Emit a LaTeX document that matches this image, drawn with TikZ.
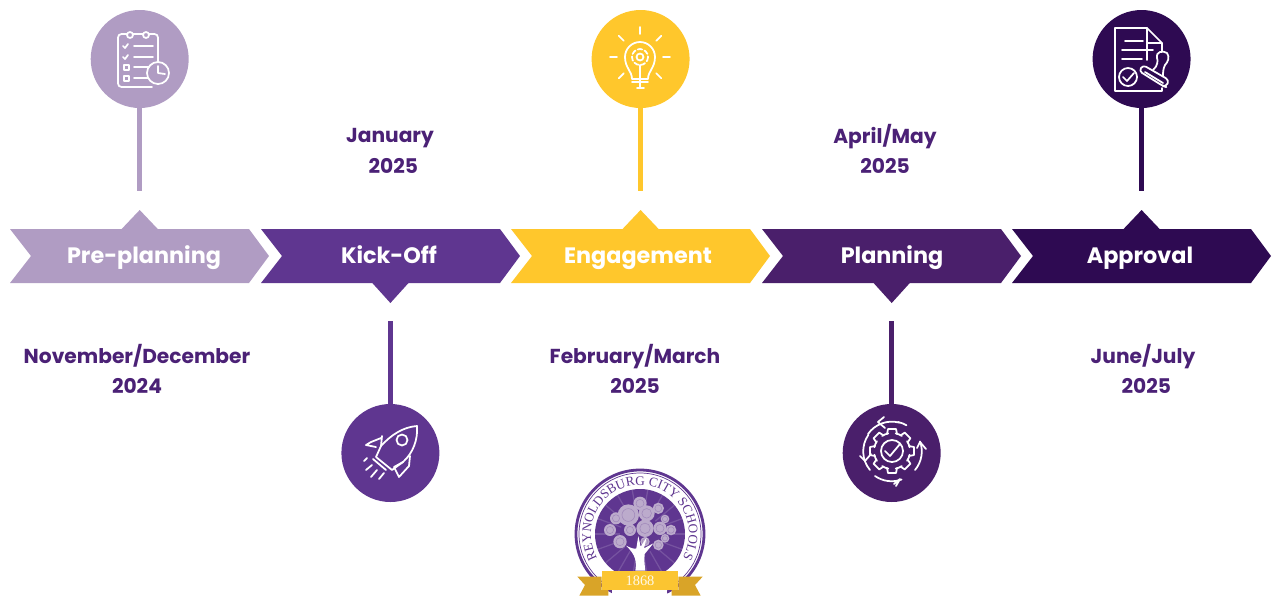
\documentclass[tikz,border=0pt]{standalone}
\usepackage{fontspec}
\setmainfont{Poppins}
\newfontfamily\crestfont{Liberation Serif}
\usetikzlibrary{decorations.text}
\definecolor{cPre}{HTML}{B09CC3}
\definecolor{cKick}{HTML}{5F3690}
\definecolor{cEng}{HTML}{FFC72C}
\definecolor{cPlan}{HTML}{4A1F6B}
\definecolor{cApp}{HTML}{2E0A52}
\definecolor{cDate}{HTML}{4B2176}
\definecolor{cGold}{HTML}{FBC531}
\definecolor{cGoldD}{HTML}{D9A428}
\tikzset{
  dotnode/.style={circle,minimum size=98*0.02cm,inner sep=0pt},
  steplabel/.style={text=white,anchor=base,font=\fontsize{12.7}{16}\selectfont\bfseries},
  datelabel/.style={text=cDate,align=center,font=\fontsize{11.5}{17.4}\selectfont\bfseries},
  iconline/.style={draw=white,line width=1pt,line cap=round,line join=round},
}
\begin{document}
\begin{tikzpicture}[x=0.02cm,y=-0.02cm]
\useasboundingbox (0,0) rectangle (1272,596);
%chevrons
\foreach \l/\c in {10/cPre,261/cKick,511/cEng,762/cPlan,1012/cApp}
{
    \fill [\c] (\l,229)--({\l+239},229)--({\l+259},256)--({\l+239},283)--(\l,283)--({\l+21},256)--cycle;
};
\fill [cPre] (120.7,230)--(139.7,210)--(158.7,230)--cycle;
\fill [cEng] (621.6,230)--(640.6,210)--(659.6,230)--cycle;
\fill [cApp] (1122.6,230)--(1141.6,210)--(1160.6,230)--cycle;
\fill [cKick] (371.4,282)--(390.4,303)--(409.4,282)--cycle;
\fill [cPlan] (872.7,282)--(891.7,303)--(910.7,282)--cycle;
\node[steplabel] (tPre) at (144,263) {Pre-planning};
\node[steplabel] (tKick) at (389,263) {Kick-Off};
\node[steplabel] (tEng) at (638,263) {Engagement};
\node[steplabel] (tPlan) at (892,263) {Planning};
\node[steplabel] (tApp) at (1140,263) {Approval};
%dots and stems
\node[dotnode,fill=cPre] (dPre) at (139.7,59) {};
\node[dotnode,fill=cKick] (dKick) at (390.4,453) {};
\node[dotnode,fill=cEng] (dEng) at (640.6,59) {};
\node[dotnode,fill=cPlan] (dPlan) at (891.7,453) {};
\node[dotnode,fill=cApp] (dApp) at (1141.6,59) {};
\coordinate (ePre) at (139.7,191);
\coordinate (eKick) at (390.4,321);
\coordinate (eEng) at (640.6,191);
\coordinate (ePlan) at (891.7,321);
\coordinate (eApp) at (1141.6,191);
\foreach \v/\c in {Pre/cPre,Kick/cKick,Eng/cEng,Plan/cPlan,App/cApp}
{
    \draw [\c,line width=3.1pt](d\v)--(e\v);
};
%dates
\node[datelabel] (lPre) at (137,369) {November/December\\2024};
\node[datelabel] (lKick) at (390,151) {January\\\,\,2025};
\node[datelabel] (lEng) at (635,369) {February/March\\2025};
\node[datelabel] (lPlan) at (885,149) {April/May\\2025};
\node[datelabel] (lApp) at (1143,369) {June/July\\\,\,2025};
%clipboard
\draw [iconline,rounded corners=2pt] (118,38)--(118,87)--(152,87);
\draw [iconline,rounded corners=2pt] (158,62)--(158,34)--(118,34)--(118,40);
\draw [iconline,fill=cPre] (130,35) circle (3) (146,35) circle (3);
\draw [iconline] (123,46)--(125,48)--(128,44) (134,46)--(153,46);
\draw [iconline] (123,57)--(125,59)--(128,55) (134,57)--(153,57);
\draw [iconline] (124,65) rectangle (129,70) (124,76) rectangle (129,81);
\draw [iconline] (134,67)--(149,67) (134,78)--(148,78);
\draw [iconline,fill=cPre] (158,73) circle (11);
\draw [iconline] (158,66)--(158,73)--(165,74);
%rocket
\draw [iconline] (417,426) .. controls (403,427) and (391,435) .. (381,446)--(376,457)--(392,470)
  --(403,462) .. controls (413,453) and (418,440) .. (417,426)--cycle;
\draw [iconline] (381,438)--(371,442)--(366,445)--(376,447) (382,436)--(381,446);
\draw [iconline] (410,456)--(409,466)--(399,477)--(394,467)--(403,462);
\draw [iconline] (402,440) circle (5.5);
\draw [iconline] (373,459)--(386,470);
\draw [iconline] (367,458)--(364,461) (372,465)--(366,470) (377,470)--(371,477) (384,473)--(379,479);
%gear
\foreach \a in {0,45,...,315}
{
    \draw [iconline,rotate around={\a:(892,451)}] (887,434)--(888,429)--(896,429)--(897,434);
};
\foreach \a in {0,45,...,315}
{
    \draw [iconline] (892,451)++({\a+12}:18) arc [radius=18,start angle={\a+12},end angle={\a+33}];
};
\draw [iconline] (892,451) circle (11);
\draw [iconline] (885,451)--(890,456)--(900,444);
\draw [iconline] (870,470) arc [radius=29,start angle=140,end angle=215];
\draw [iconline] (868,434) arc [radius=29,start angle=215,end angle=285];
\draw [iconline] (898,422) arc [radius=29,start angle=282,end angle=300];
\draw [iconline] (915,470) arc [radius=29,start angle=40,end angle=-20];
\draw [iconline] (875,476) arc [radius=29,start angle=125,end angle=70];
\draw [iconline] (884,417)--(878,422)--(885,428);
\draw [iconline] (860,456)--(865,461)--(871,454);
\draw [iconline] (917,448)--(920,442)--(926,449);
\draw [iconline] (894,484)--(900,479)--(896,486);
%bulb
\foreach \a in {0,45,...,315}
{
    \draw [iconline] (640,57)++(\a:23)--++(\a:7);
};
\draw [iconline] (632,79) .. controls (632,71) and (625,68) .. (625,57) arc [radius=15,start angle=180,end angle=360]
  .. controls (655,68) and (648,71) .. (648,79)--cycle;
\draw [iconline] (632,82)--(648,82) (637,88)--(644,88);
\draw [iconline] (640,65)--(640,78);
\draw [iconline,dash pattern=on 2.6pt off 1.4pt] (640,57) circle (8);
\draw [iconline] (640,57) circle (3.5);
%stamp
\draw [iconline] (1147,60)--(1147,28)--(1115,28)--(1115,91)--(1162,91)--(1162,88);
\draw [iconline] (1147,28)--(1162,43)--(1162,60) (1147,43)--(1162,43) (1147,28)--(1147,43);
\draw [iconline] (1125,41)--(1143,41) (1122,50)--(1153,50) (1122,59)--(1142,59);
\draw [iconline] (1128,77) circle (9);
\draw [iconline] (1123,77)--(1127,81)--(1134,73);
\draw [iconline,fill=cApp] (1153,70) .. controls (1158,66) and (1158,60) .. (1157,58) .. controls (1155,52) and (1163,50) .. (1167,53) .. controls (1170,57) and (1168,62) .. (1165,65) .. controls (1163,69) and (1163,73) .. (1163,76);
\draw [iconline,fill=cApp,rounded corners=2pt] (1143,65)--(1139,71)--(1163,86)--(1166,87)--(1169,80)--cycle;
\draw [iconline] (1145,72)--(1163,83);
%crest
\fill [white] (640,534) circle (65);
\draw [cKick,line width=1.6pt] (640,534) circle (64);
\draw [cKick,line width=0.4pt] (640,534) circle (61);
\fill [cKick] (640,534) circle (45);
\foreach \a in {0,20,...,340}
{
    \draw [white,opacity=0.15,line width=0.7pt] (640,534)++(\a:20)--++(\a:25);
};
\path [decorate,decoration={text along path,text align=center,
  text={|\fontsize{7.5}{8}\crestfont\color{cKick}|REYNOLDSBURG CITY SCHOOLS}}]
  (640,534)++(135:49) arc [radius=49,start angle=135,end angle=405];
\begin{scope}[shift={(540,450)},scale=1/3]
\foreach \x/\y/\r in {300/160/20,265/195/32,320/190/24,355/175/17,228/205/18,210/240/18,240/275/20,315/235/26,360/235/20,393/240/16,375/207/13,355/285/16,270/240/18,375/265/13,315/275/14}
{
    \fill [cPre!85!white] (\x,\y) circle (\r);
    \draw [cKick,opacity=0.3,line width=0.3pt] (\x,\y) circle ({\r*0.6});
};
\fill [white] (286,362) .. controls (290,335) and (288,315) .. (258,287) .. controls (275,295) and (285,298) .. (289,295)
  --(295,258)--(302,290)--(320,262)--(312,295)--(340,280)--(314,312) .. controls (312,330) and (314,345) .. (316,362)--cycle;
\fill [cGoldD] (185,380)--(112,380)--(135,405)--(118,437)--(205,437)--(205,420)--(185,420)--cycle;
\fill [cGoldD] (415,380)--(488,380)--(465,405)--(482,437)--(395,437)--(395,420)--(415,420)--cycle;
\fill [white] (215,420) rectangle (380,450);
\fill [cGold] (185,362) rectangle (415,420);
\node[text=white!90!cGold,font=\fontsize{8.2}{10}\crestfont] (tYear) at (300,391) {1868};
\end{scope}
\end{tikzpicture}
\end{document}
